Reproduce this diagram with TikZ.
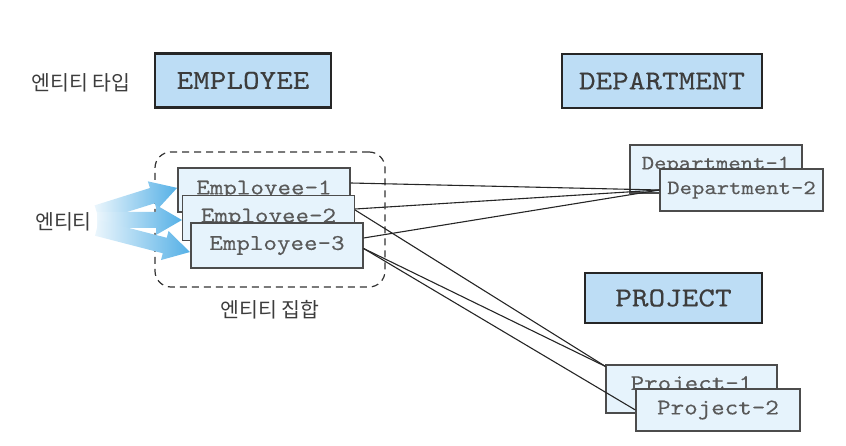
\documentclass[tikz,border=0pt]{standalone}
\usepackage{fontspec}
\newfontfamily\fonkor{Noto Sans CJK KR}
\newfontfamily\fonkode{lmmono10-regular.otf}[FakeStretch=1.15,FakeBold=0.25]
\definecolor{birutua}{HTML}{BDDDF5}
\definecolor{birumuda}{HTML}{E6F3FC}
\definecolor{panah}{HTML}{55B0E6}
\definecolor{teks}{HTML}{3C3C3C}
\begin{document}
\begin{tikzpicture}[x=1pt,y=-1pt,
      tipe/.style={draw=black!85,line width=2.6pt,fill=birutua,text=teks,
        font=\fonkode\fontsize{27.5}{30}\selectfont,minimum height=54pt,
        inner sep=0pt},
      anggota/.style={draw=black!70,line width=1.2pt,fill=birumuda,
        text=black!65,font=\fonkode\fontsize{22.4}{26}\selectfont,
        minimum width=172pt,minimum height=45pt,inner sep=0pt},
      kecil/.style={font=\fonkode\fontsize{20.5}{24}\selectfont},
      ket/.style={text=teks,font=\fonkor\fontsize{20.5}{24}\selectfont,
        inner sep=0pt},
      hub/.style={draw=black!85,line width=1.1pt}]
    \useasboundingbox (0,0) rectangle (846,446);

    % Tipe entitas
    \node[ket] (lbtipe) at (81,83) {엔티티 타입};
    \node[tipe,minimum width=176pt] (emp) at (243,80.5) {EMPLOYEE};
    \node[tipe,minimum width=200pt] (dep) at (662,81) {DEPARTMENT};
    \node[tipe,minimum width=177pt,minimum height=50pt] (prj) at (673.5,298)
      {PROJECT};

    % Himpunan entitas
    \node[draw=black!80,dash pattern=on 7pt off 5pt,line width=1.2pt,
      rounded corners=16pt,minimum width=230pt,minimum height=135pt]
      (himp) at (270,219.5) {};
    \node[ket] (lbhimp) at (270,310) {엔티티 집합};
    \node[ket] (lbent) at (63.5,222) {엔티티};

    % Panah gradasi menuju tiap entitas
    \foreach \sudut/\pjg/\ty in {17.4/84/213, 0/85/220, -14.5/96/228}
      {\begin{scope}[shift={(97,\ty)},rotate=\sudut]
         \shade[left color=panah!12,middle color=panah!70,right color=panah]
           (0,-8) -- (\pjg-26,-8) -- (\pjg-26,-15) -- (\pjg,0)
           -- (\pjg-26,15) -- (\pjg-26,8) -- (0,8) -- cycle;
       \end{scope}}

    % Entitas
    \node[anggota,minimum height=44pt] (e1) at (264,190) {Employee-1};
    \node[anggota] (e2) at (268.5,218) {Employee-2};
    \node[anggota] (e3) at (277,245.5) {Employee-3};
    \node[anggota,kecil,minimum height=48pt] (d1) at (716,169)
      {\raisebox{12pt}{Department-1}};
    \node[anggota,kecil,minimum width=163pt,minimum height=42pt] (d2)
      at (741.5,190) {Department-2};
    \node[anggota,minimum width=171pt,minimum height=48pt] (p1)
      at (691.5,389) {\raisebox{12pt}{Project-1}};
    \node[anggota,minimum width=164pt,minimum height=42pt] (p2)
      at (718,410) {Project-2};

    % Hubungan antarentitas
    \draw[hub] ([yshift=7pt]e1.east) -- (d2.west);
    \draw[hub] ([yshift=9pt]e2.east) -- (d2.west);
    \draw[hub] ([yshift=7.5pt]e3.east) -- (d2.west);
    \draw[hub] ([yshift=8pt]e2.east) -- ([yshift=-2pt]p1.north west);
    \draw[hub] ([yshift=-3pt]e3.east) -- ([yshift=-2pt]p1.north west);
    \draw[hub] ([yshift=-3pt]e3.east) -- (p2.west);
  \end{tikzpicture}
\end{document}
